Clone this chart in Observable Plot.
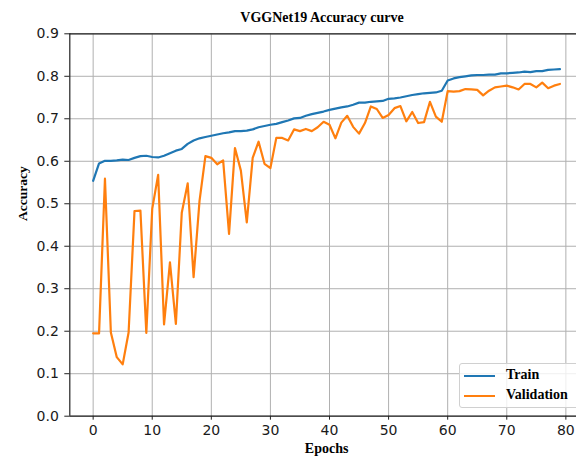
<!DOCTYPE html>
<html>
<head>
<meta charset="utf-8">
<script src="https://cdn.jsdelivr.net/npm/d3@7"></script>
<script src="https://cdn.jsdelivr.net/npm/@observablehq/plot@0.6"></script>
<style>
  html, body { margin: 0; padding: 0; background: #fff; overflow: hidden; }
  #wrap { position: relative; width: 576px; height: 461px; }
  #title { height: 16px; padding-top: 10px; line-height: 16px; box-sizing: content-box;
           font: bold 14px "Liberation Serif", serif; color: #000;
           text-align: center; padding-left: 68px; width: 508px; white-space: nowrap; }
  #legend { position: absolute; left: 459px; top: 363px; width: 122px; height: 43px;
            border: 1px solid #d0d0d0; border-radius: 3px; background: rgba(255,255,255,0.8);
            font: bold 14px "Liberation Serif", serif; color: #000; }
  .row { position: absolute; left: 4px; height: 20px; line-height: 20px; white-space: nowrap; }
  .sw { display: inline-block; width: 31px; height: 2px; vertical-align: middle; margin-right: 11px; }
</style>
</head>
<body>
<div id="wrap">
  <div id="title"></div>
  <div id="chart"></div>
  <div id="legend"></div>
</div>
<script>
// ---- data ----
const titleText = "VGGNet19 Accuracy curve";
const xLabel = "Epochs";
const yLabel = "Accuracy";
const seriesNames = ["Train", "Validation"];
const seriesColors = ["#1f77b4", "#ff7f0e"];
const xTicks = [0, 10, 20, 30, 40, 50, 60, 70, 80];
const yTicks = [0, 0.1, 0.2, 0.3, 0.4, 0.5, 0.6, 0.7, 0.8, 0.9];
const xDomain = [-3.95, 81.8];
const yDomain = [0, 0.9];
const epochs = d3.range(0, 80);
const train = [
  0.554, 0.595, 0.601, 0.601, 0.602, 0.604, 0.603, 0.608, 0.612, 0.613,
  0.610, 0.609, 0.613, 0.619, 0.625, 0.629, 0.641, 0.649, 0.654, 0.657,
  0.660, 0.663, 0.666, 0.668, 0.671, 0.671, 0.672, 0.675, 0.680, 0.683,
  0.686, 0.688, 0.692, 0.696, 0.701, 0.702, 0.707, 0.711, 0.714, 0.717,
  0.721, 0.724, 0.727, 0.729, 0.733, 0.738, 0.738, 0.740, 0.741, 0.742,
  0.747, 0.748, 0.750, 0.753, 0.756, 0.758, 0.760, 0.761, 0.762, 0.766,
  0.790, 0.795, 0.798, 0.800, 0.802, 0.803, 0.803, 0.804, 0.804, 0.807,
  0.807, 0.808, 0.809, 0.811, 0.810, 0.812, 0.812, 0.815, 0.816, 0.817
];
const validation = [
  0.195, 0.195, 0.559, 0.197, 0.139, 0.122, 0.197, 0.483, 0.484, 0.196,
  0.488, 0.568, 0.216, 0.362, 0.217, 0.479, 0.548, 0.327, 0.506, 0.612,
  0.608, 0.593, 0.602, 0.429, 0.631, 0.578, 0.456, 0.608, 0.646, 0.594,
  0.584, 0.655, 0.655, 0.649, 0.675, 0.671, 0.676, 0.671, 0.680, 0.693,
  0.686, 0.654, 0.691, 0.707, 0.681, 0.665, 0.690, 0.729, 0.723, 0.702,
  0.709, 0.725, 0.730, 0.694, 0.716, 0.690, 0.692, 0.740, 0.705, 0.693,
  0.765, 0.764, 0.765, 0.770, 0.769, 0.768, 0.755, 0.766, 0.774, 0.776,
  0.778, 0.774, 0.769, 0.782, 0.782, 0.774, 0.785, 0.772, 0.778, 0.782
];

const rows = [];
epochs.forEach((e, i) => {
  rows.push({epoch: e, acc: train[i], series: seriesNames[0]});
});
epochs.forEach((e, i) => {
  rows.push({epoch: e, acc: validation[i], series: seriesNames[1]});
});

document.getElementById("title").textContent = titleText;

const sans = "'DejaVu Sans', sans-serif";
const serif = "'Liberation Serif', serif";

const chart = Plot.plot({
  width: 576,
  height: 435,
  marginLeft: 69.3,
  marginRight: 0,
  marginTop: 7.3,
  marginBottom: 45.3,
  style: {fontFamily: sans, fontSize: "14px", color: "#1a1a1a", background: "transparent", overflow: "visible"},
  x: {domain: xDomain, label: null},
  y: {domain: yDomain, label: null},
  color: {domain: seriesNames, range: seriesColors},
  marks: [
    Plot.gridX(xTicks, {stroke: "#b0b0b0", strokeOpacity: 1, strokeWidth: 1}),
    Plot.gridY(yTicks, {stroke: "#b0b0b0", strokeOpacity: 1, strokeWidth: 1}),
    Plot.ruleX([xDomain[0]], {stroke: "#222", strokeWidth: 1.2}),
    Plot.ruleY([yDomain[0], yDomain[1]], {stroke: "#222", strokeWidth: 1.2}),
    Plot.axisX({ticks: xTicks, tickSize: 4, tickPadding: 5, fontSize: 14, fontFamily: sans, stroke: "#222", label: null}),
    Plot.axisY({ticks: yTicks, tickSize: 5, tickPadding: 6, fontSize: 14, fontFamily: sans, stroke: "#222", tickFormat: d3.format(".1f"), label: null}),
    Plot.line(rows, {x: "epoch", y: "acc", z: "series", stroke: "series", strokeWidth: 2.2, curve: "linear"}),
    Plot.text([yLabel], {frameAnchor: "left", rotate: -90, dx: -47.3, dy: -4, fontSize: 13.5, fontWeight: "bold", fontFamily: serif, fill: "#000"}),
    Plot.text([xLabel], {frameAnchor: "bottom", dx: 3.5, dy: 37, fontSize: 14, fontWeight: "bold", fontFamily: serif, fill: "#000"})
  ]
});
document.getElementById("chart").appendChild(chart);

// legend
const legend = document.getElementById("legend");
seriesNames.forEach((name, i) => {
  const row = document.createElement("div");
  row.className = "row";
  row.style.top = (1 + i * 20) + "px";
  const sw = document.createElement("span");
  sw.className = "sw";
  sw.style.background = seriesColors[i];
  row.appendChild(sw);
  row.appendChild(document.createTextNode(name));
  legend.appendChild(row);
});
</script>
</body>
</html>
